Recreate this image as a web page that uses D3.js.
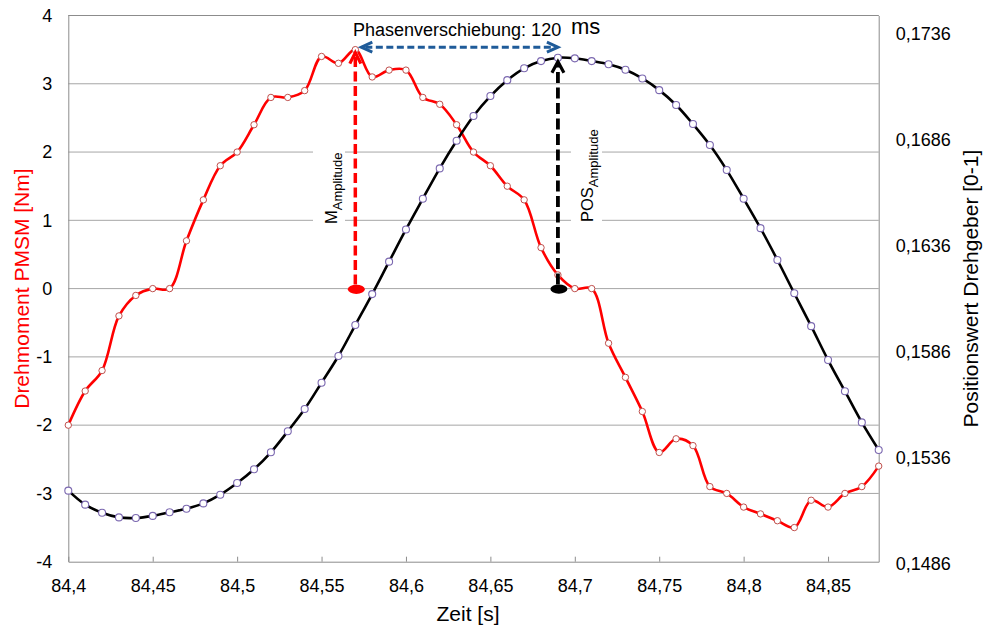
<!DOCTYPE html>
<html><head><meta charset="utf-8">
<script src="https://cdn.jsdelivr.net/npm/d3@7"></script>
<style>body{margin:0;background:#fff}svg{display:block;font-family:"Liberation Sans",Arial,sans-serif}</style>
</head><body>
<svg id="c" width="984" height="627"></svg>
<script>
// ---- data ----
const times = [84.40,84.41,84.42,84.43,84.44,84.45,84.46,84.47,84.48,84.49,
  84.50,84.51,84.52,84.53,84.54,84.55,84.56,84.57,84.58,84.59,
  84.60,84.61,84.62,84.63,84.64,84.65,84.66,84.67,84.68,84.69,
  84.70,84.71,84.72,84.73,84.74,84.75,84.76,84.77,84.78,84.79,
  84.80,84.81,84.82,84.83,84.84,84.85,84.86,84.87,84.88];
const torque = [-2.0,-1.5,-1.2,-0.4,-0.1,0.0,0.0,0.7,1.3,1.8,
  2.0,2.4,2.8,2.8,2.9,3.4,3.3,3.5,3.1,3.2,
  3.2,2.8,2.7,2.4,2.0,1.8,1.5,1.3,0.6,0.2,
  0.0,0.0,-0.8,-1.3,-1.8,-2.4,-2.2,-2.3,-2.9,-3.0,
  -3.2,-3.3,-3.4,-3.5,-3.1,-3.2,-3.0,-2.9,-2.6];
const position = [0.15195,0.15129,0.15091,0.15069,0.15066,0.15076,0.15093,0.15110,0.15135,0.15176,
  0.15231,0.15296,0.15376,0.15475,0.15580,0.15704,0.15830,0.15976,0.16122,0.16275,
  0.16427,0.16572,0.16715,0.16845,0.16962,0.17056,0.17131,0.17187,0.17221,0.17237,
  0.17234,0.17221,0.17206,0.17180,0.17139,0.17084,0.17014,0.16924,0.16825,0.16707,
  0.16572,0.16433,0.16283,0.16126,0.15971,0.15811,0.15664,0.15517,0.15387];
const xTicks = [84.4,84.45,84.5,84.55,84.6,84.65,84.7,84.75,84.8,84.85];
const xTickLabels = ["84,4","84,45","84,5","84,55","84,6","84,65","84,7","84,75","84,8","84,85"];
const yLeftTicks = [-4,-3,-2,-1,0,1,2,3,4];
const yLeftTickLabels = ["-4","-3","-2","-1","0","1","2","3","4"];
const yRightTicks = [0.1486,0.1536,0.1586,0.1636,0.1686,0.1736];
const yRightTickLabels = ["0,1486","0,1536","0,1586","0,1636","0,1686","0,1736"];
const phaseLabel = "Phasenverschiebung: 120";
const phaseUnit = "ms";
const mPeakTime = 84.57, posPeakTime = 84.69;

// ---- scales ----
const L = 68.3, R = 878.7, T = 15.5, B = 561.7;
const x = d3.scaleLinear().domain([84.4, 84.88]).range([L, R]);
const yL = d3.scaleLinear().domain([-4, 4]).range([B, T]);
const yR = d3.scaleLinear().domain([0.1486, 0.17436]).range([B, T]);

const svg = d3.select("#c");
const gridC = "#a6a6a6", axisC = "#8c8c8c";

// gridlines
svg.append("g").selectAll("line").data(yLeftTicks.filter(v => v > -4)).join("line")
  .attr("x1", L).attr("x2", R).attr("y1", d => yL(d)).attr("y2", d => yL(d))
  .attr("stroke", gridC).attr("stroke-width", 1);

// axes
const xAxis = svg.append("g").attr("transform", `translate(0,${B})`)
  .call(d3.axisBottom(x).tickValues(xTicks).tickSizeInner(-5).tickSizeOuter(0).tickFormat((d,i) => xTickLabels[i]));
xAxis.select(".domain").attr("stroke", axisC);
xAxis.selectAll(".tick line").attr("stroke", axisC);
xAxis.selectAll("text").attr("font-size", 18).attr("fill", "#000").attr("y", 18).attr("dy", "0.71em")
  .attr("font-family", '"Liberation Sans",Arial,sans-serif');

const yAxisL = svg.append("g").attr("transform", `translate(${L},0)`)
  .call(d3.axisLeft(yL).tickValues(yLeftTicks).tickSize(0).tickPadding(16).tickFormat((d,i) => yLeftTickLabels[i]));
yAxisL.select(".domain").attr("stroke", axisC);
yAxisL.selectAll("text").attr("font-size", 18).attr("fill", "#000")
  .attr("font-family", '"Liberation Sans",Arial,sans-serif');

const yAxisR = svg.append("g").attr("transform", `translate(${R},0)`)
  .call(d3.axisRight(yR).tickValues(yRightTicks).tickSize(0).tickPadding(17).tickFormat((d,i) => yRightTickLabels[i]));
yAxisR.select(".domain").attr("stroke", axisC);
yAxisR.selectAll("text").attr("font-size", 18).attr("fill", "#000").attr("dy", "0.42em")
  .attr("font-family", '"Liberation Sans",Arial,sans-serif');

// top border
svg.append("line").attr("x1", L).attr("x2", R).attr("y1", T).attr("y2", T).attr("stroke", axisC);

// axis titles
svg.append("text").attr("transform", `translate(28.5,${(T+B)/2}) rotate(-90)`)
  .attr("text-anchor", "middle").attr("font-size", 21).attr("fill", "#ff0000").text("Drehmoment PMSM [Nm]");
svg.append("text").attr("transform", `translate(978,${(T+B)/2}) rotate(-90)`)
  .attr("text-anchor", "middle").attr("font-size", 21).attr("fill", "#000").text("Positionswert Drehgeber [0-1]");
svg.append("text").attr("x", 468).attr("y", 621).attr("text-anchor", "middle")
  .attr("font-size", 21).attr("fill", "#000").text("Zeit [s]");

// white label boxes (cover gridlines)
svg.append("rect").attr("x", 313).attr("y", 140).attr("width", 32).attr("height", 92).attr("fill", "#fff");
svg.append("rect").attr("x", 571).attr("y", 120).attr("width", 31).attr("height", 112).attr("fill", "#fff");

// series
const curve = d3.curveCatmullRom.alpha(0.5);
const lineT = d3.line().x((d,i) => x(times[i])).y(d => yL(d)).curve(curve);
const lineP = d3.line().x((d,i) => x(times[i])).y(d => yR(d)).curve(curve);

svg.append("path").attr("d", lineT(torque)).attr("fill", "none").attr("stroke", "#ff0000").attr("stroke-width", 2.6);
svg.append("g").selectAll("circle").data(torque).join("circle")
  .attr("cx", (d,i) => x(times[i])).attr("cy", d => yL(d)).attr("r", 3.2)
  .attr("fill", "#fff").attr("stroke", "#c0504d").attr("stroke-width", 1);

svg.append("path").attr("d", lineP(position)).attr("fill", "none").attr("stroke", "#000").attr("stroke-width", 2.6);
svg.append("g").selectAll("circle").data(position).join("circle")
  .attr("cx", (d,i) => x(times[i])).attr("cy", d => yR(d)).attr("r", 3.5)
  .attr("fill", "#fff").attr("stroke", "#7b68b0").attr("stroke-width", 1.1);

// annotations
const mi = times.indexOf(mPeakTime), pi = times.indexOf(posPeakTime);
const mx = x(mPeakTime), px = x(posPeakTime);
const y0 = yL(0);
const mTop = yL(torque[mi]) + 2, pTop = yR(position[pi]) + 3;

// red dashed arrow
svg.append("line").attr("x1", mx).attr("x2", mx).attr("y1", y0 - 4).attr("y2", mTop + 3)
  .attr("stroke", "#ff0000").attr("stroke-width", 3.5).attr("stroke-dasharray", "10,4.5");
svg.append("path").attr("d", `M${mx-5.5},${mTop+12}L${mx},${mTop+1}L${mx+5.5},${mTop+12}`)
  .attr("fill", "none").attr("stroke", "#ff0000").attr("stroke-width", 3.2);
svg.append("ellipse").attr("cx", mx + 1).attr("cy", y0 + 0.7).attr("rx", 8.5).attr("ry", 4.6).attr("fill", "#ff0000");

// black dashed arrow
svg.append("line").attr("x1", px).attr("x2", px).attr("y1", y0 - 4).attr("y2", pTop + 3)
  .attr("stroke", "#000").attr("stroke-width", 3.8).attr("stroke-dasharray", "11,4.5");
svg.append("path").attr("d", `M${px-6},${pTop+12}L${px},${pTop+1}L${px+6},${pTop+12}`)
  .attr("fill", "none").attr("stroke", "#000").attr("stroke-width", 3.2);
svg.append("ellipse").attr("cx", px + 1).attr("cy", y0 + 0.5).attr("rx", 8.5).attr("ry", 4.6).attr("fill", "#000");

// blue double arrow
const by = yL(torque[mi]) - 2.5;
const bx1 = mx + 6, bx2 = px;
svg.append("line").attr("x1", bx1 + 4).attr("x2", bx2 - 4).attr("y1", by).attr("y2", by)
  .attr("stroke", "#1f5b99").attr("stroke-width", 3).attr("stroke-dasharray", "7,3.5");
svg.append("path").attr("d", `M${bx1+11},${by-5}L${bx1},${by}L${bx1+11},${by+5}`)
  .attr("fill", "none").attr("stroke", "#1f5b99").attr("stroke-width", 3);
svg.append("path").attr("d", `M${bx2-11},${by-5}L${bx2},${by}L${bx2-11},${by+5}`)
  .attr("fill", "none").attr("stroke", "#1f5b99").attr("stroke-width", 3);

// texts
svg.append("text").attr("x", 353).attr("y", 36).attr("font-size", 18).attr("fill", "#000").text(phaseLabel);
svg.append("text").attr("x", 571).attr("y", 34).attr("font-size", 22).attr("fill", "#000").text(phaseUnit);

const mt = svg.append("text").attr("transform", "translate(337,224) rotate(-90)").attr("font-size", 16.5).attr("fill", "#000");
mt.append("tspan").text("M");
mt.append("tspan").attr("font-size", 13).attr("dy", 5).text("Amplitude");

const pt = svg.append("text").attr("transform", "translate(593.3,222) rotate(-90)").attr("font-size", 16.5).attr("fill", "#000");
pt.append("tspan").text("POS");
pt.append("tspan").attr("font-size", 13).attr("dy", 5).text("Amplitude");
</script>
</body></html>
